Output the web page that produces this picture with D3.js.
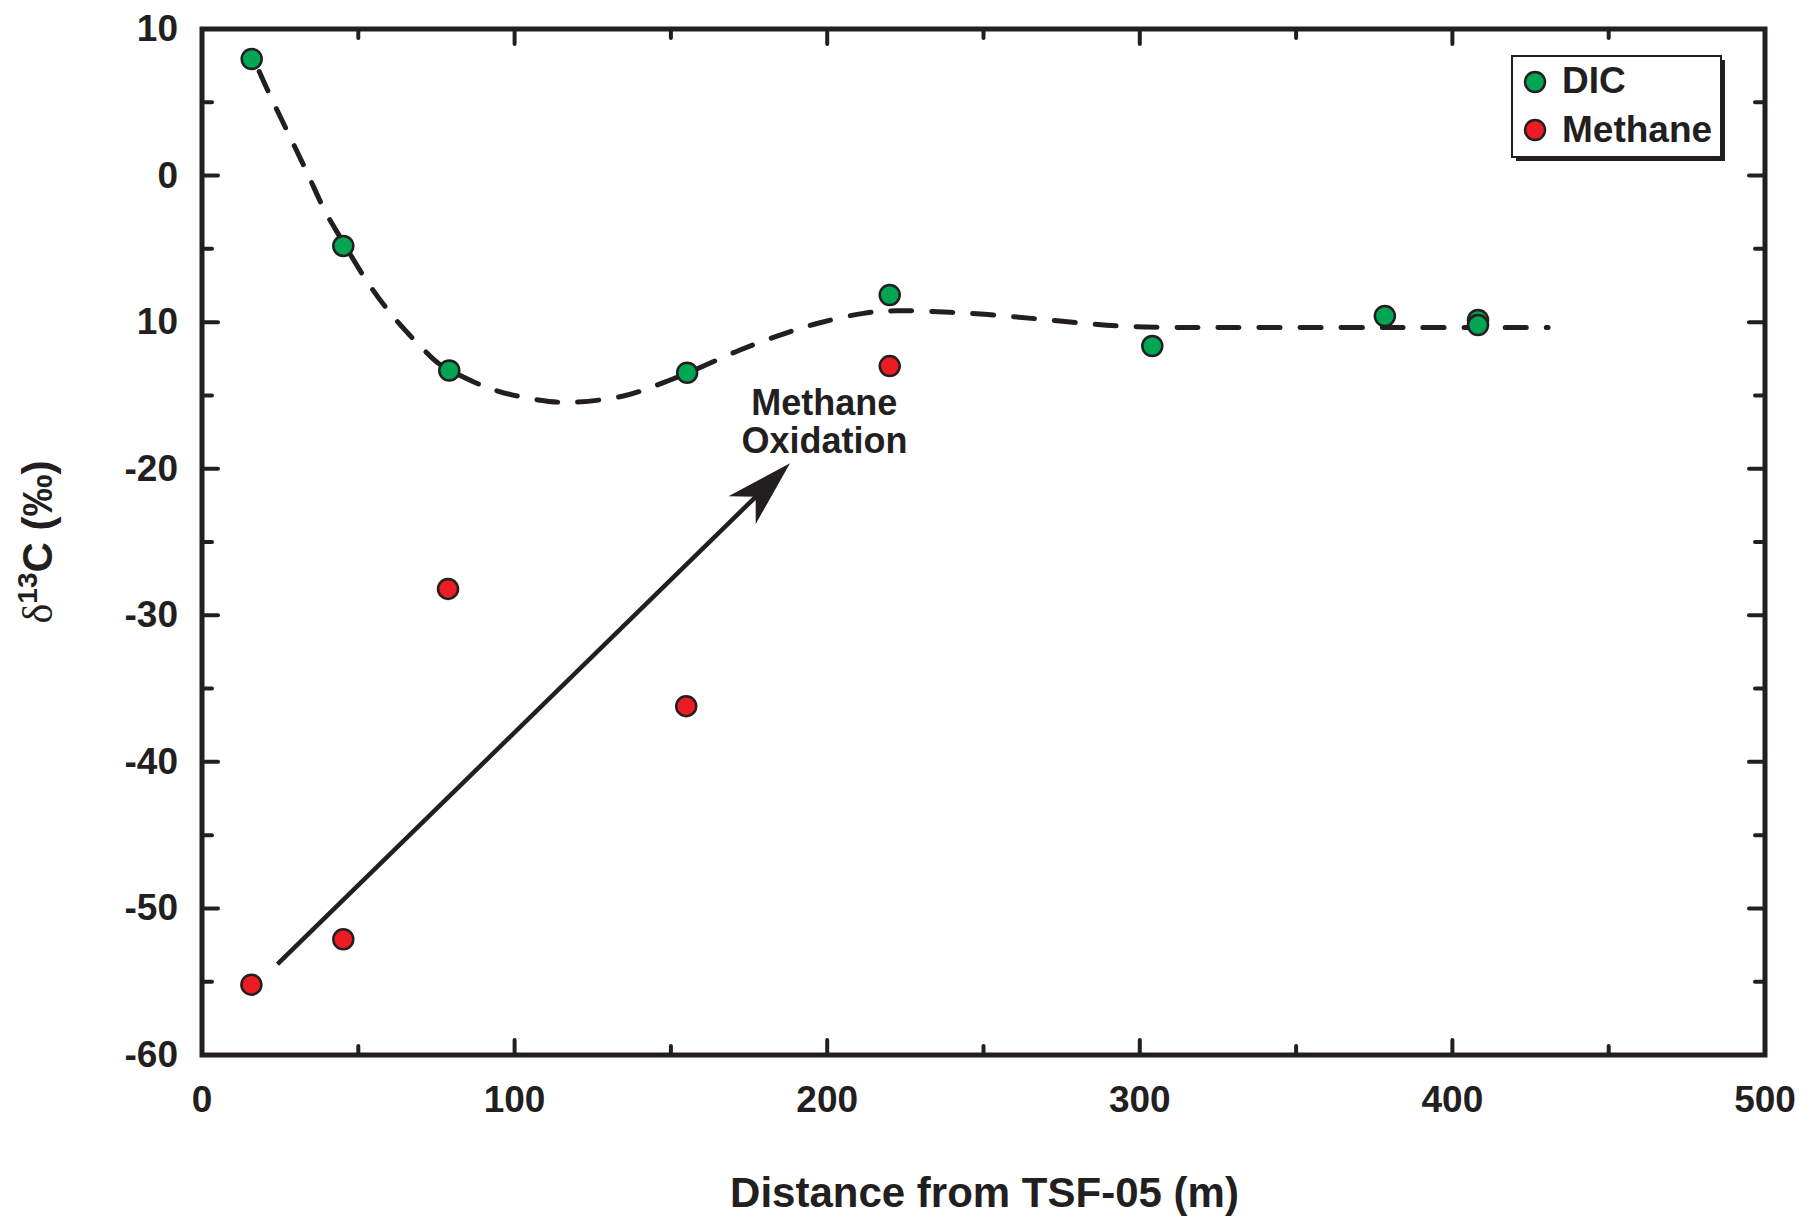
<!DOCTYPE html>
<html>
<head>
<meta charset="utf-8">
<script src="https://cdn.jsdelivr.net/npm/d3@7"></script>
<style>
  html, body { margin: 0; padding: 0; background: #fff; }
  svg { display: block; }
  text { font-family: "Liberation Sans", Arial, Helvetica, sans-serif; font-weight: bold; fill: #231f20; }
</style>
</head>
<body>
<svg id="chart" width="1804" height="1217"></svg>
<script>
// ---------- data ----------
const dicX = [15.9, 45.2, 79.1, 155.2, 220, 304, 378.4, 408.2, 408.2];
const dicY = [7.95, -4.8, -13.3, -13.45, -8.15, -11.63, -9.58, -9.85, -10.2];
const methaneX = [15.8, 45.2, 78.7, 154.9, 220];
const methaneY = [-55.2, -52.1, -28.2, -36.2, -13.0];
const trendX = [18.3, 21.7, 27.6, 33.5, 39.3, 44.1, 53.2, 61.2, 70.8, 75.6, 86.8, 94.3, 107.6, 117.7, 134.8, 147.6, 159.9, 172.1, 184.9, 197.7, 211.6, 222.2, 239.3, 253.2, 266.3, 280.2, 293.5, 307.4, 330, 380, 430.6];
const trendY = [7.1, 5.5, 2.88, 0.26, -2.4, -4.17, -7.35, -9.63, -11.85, -12.8, -14.06, -14.68, -15.31, -15.47, -15.04, -14.13, -13.04, -11.9, -10.88, -10.04, -9.4, -9.22, -9.33, -9.51, -9.76, -10.04, -10.26, -10.35, -10.37, -10.37, -10.37];
const xTicks = [0, 100, 200, 300, 400, 500];
const xTickLabels = ["0", "100", "200", "300", "400", "500"];
const xMinorTicks = [50, 150, 250, 350, 450];
const yTicks = [10, 0, -10, -20, -30, -40, -50, -60];
const yTickLabels = ["10", "0", "10", "-20", "-30", "-40", "-50", "-60"];
const yMinorTicks = [5, -5, -15, -25, -35, -45, -55];
const arrowFrom = [24.15, -53.8];
const arrowTo = [188.1, -19.63];
const annotationPos = [199.1, -16.34];
const annotationLines = ["Methane", "Oxidation"];
const legendLabels = ["DIC", "Methane"];
const colors = { dic: "#00a651", methane: "#ed1c24", ink: "#231f20" };

// ---------- layout ----------
const L = 202, R = 1765, T = 29, B = 1055;
const svg = d3.select("#chart");
const x = d3.scaleLinear().domain([0, 500]).range([L, R]);
const y = d3.scaleLinear().domain([-60, 10]).range([B, T]);

// trend curve
const trend = trendX.map((v, i) => [v, trendY[i]]);
svg.append("path")
  .datum(trend)
  .attr("d", d3.line().x(d => x(d[0])).y(d => y(d[1])).curve(d3.curveCatmullRom.alpha(0.5)))
  .attr("fill", "none")
  .attr("stroke", colors.ink)
  .attr("stroke-width", 5)
  .attr("stroke-dasharray", "21 20")
  .attr("stroke-linecap", "round");

// arrow
const p0 = [x(arrowFrom[0]), y(arrowFrom[1])];
const p1 = [x(arrowTo[0]), y(arrowTo[1])];
const dx = p1[0] - p0[0], dy = p1[1] - p0[1];
const len = Math.hypot(dx, dy);
const ux = dx / len, uy = dy / len;
const px = -uy, py = ux;
const headLen = 67, headHalf = 19.5, notch = 48;
const notchPt = [p1[0] - ux * notch, p1[1] - uy * notch];
svg.append("line")
  .attr("x1", p0[0]).attr("y1", p0[1])
  .attr("x2", notchPt[0] + ux * 4).attr("y2", notchPt[1] + uy * 4)
  .attr("stroke", colors.ink).attr("stroke-width", 4.5);
const head = [
  p1,
  [p1[0] - ux * headLen + px * headHalf, p1[1] - uy * headLen + py * headHalf],
  notchPt,
  [p1[0] - ux * headLen - px * headHalf, p1[1] - uy * headLen - py * headHalf]
];
svg.append("path")
  .attr("d", "M" + head.map(p => p.join(",")).join("L") + "Z")
  .attr("fill", colors.ink);

// annotation
const ann = svg.append("text")
  .attr("x", x(annotationPos[0]))
  .attr("y", y(annotationPos[1]))
  .attr("text-anchor", "middle")
  .attr("font-size", 36);
annotationLines.forEach((t, i) => {
  ann.append("tspan").attr("x", x(annotationPos[0])).attr("dy", i === 0 ? 0 : 38).text(t);
});

// points
function drawPoints(xs, ys, fill) {
  svg.append("g").selectAll("circle")
    .data(xs.map((v, i) => [v, ys[i]]))
    .join("circle")
    .attr("cx", d => x(d[0]))
    .attr("cy", d => y(d[1]))
    .attr("r", 10)
    .attr("fill", fill)
    .attr("stroke", colors.ink)
    .attr("stroke-width", 2.5);
}
drawPoints(dicX, dicY, colors.dic);
drawPoints(methaneX, methaneY, colors.methane);

// frame
svg.append("rect")
  .attr("x", L).attr("y", T).attr("width", R - L).attr("height", B - T)
  .attr("fill", "none").attr("stroke", colors.ink).attr("stroke-width", 5);

// ticks on all four sides, inward
const tg = svg.append("g").attr("stroke", colors.ink).attr("stroke-width", 4).attr("stroke-linecap", "round");
function xTickMarks(vals, size) {
  vals.forEach(v => {
    tg.append("line").attr("x1", x(v)).attr("x2", x(v)).attr("y1", B).attr("y2", B - size);
    tg.append("line").attr("x1", x(v)).attr("x2", x(v)).attr("y1", T).attr("y2", T + size);
  });
}
function yTickMarks(vals, size) {
  vals.forEach(v => {
    tg.append("line").attr("y1", y(v)).attr("y2", y(v)).attr("x1", L).attr("x2", L + size);
    tg.append("line").attr("y1", y(v)).attr("y2", y(v)).attr("x1", R).attr("x2", R - size);
  });
}
xTickMarks(xTicks.slice(1, -1), 15);
xTickMarks(xMinorTicks, 9);
yTickMarks(yTicks.slice(1, -1), 16);
yTickMarks(yMinorTicks, 10);

// tick labels
svg.append("g").selectAll("text")
  .data(xTicks)
  .join("text")
  .attr("x", d => x(d))
  .attr("y", 1112)
  .attr("text-anchor", "middle")
  .attr("font-size", 37)
  .text((d, i) => xTickLabels[i]);
svg.append("g").selectAll("text")
  .data(yTicks)
  .join("text")
  .attr("x", 178)
  .attr("y", d => y(d) + 12)
  .attr("text-anchor", "end")
  .attr("font-size", 37)
  .text((d, i) => yTickLabels[i]);

// axis titles
svg.append("text")
  .attr("x", (L + R) / 2 + 1)
  .attr("y", 1207)
  .attr("text-anchor", "middle")
  .attr("font-size", 42)
  .text("Distance from TSF-05 (m)");

const yt = svg.append("text")
  .attr("transform", "translate(52,542) rotate(-90)")
  .attr("text-anchor", "middle")
  .attr("font-size", 42);
yt.append("tspan").attr("font-family", "'Liberation Serif', 'DejaVu Serif', serif").attr("font-weight", "normal").text("δ");
yt.append("tspan").attr("font-size", 28).attr("dy", -15).text("13");
yt.append("tspan").attr("dy", 15).text("C (‰)");

// legend
const lg = svg.append("g");
lg.append("rect").attr("x", 1516).attr("y", 60).attr("width", 209).attr("height", 101).attr("fill", colors.ink);
lg.append("rect").attr("x", 1512).attr("y", 56).attr("width", 209).attr("height", 101)
  .attr("fill", "#fff").attr("stroke", colors.ink).attr("stroke-width", 2);
[colors.dic, colors.methane].forEach((c, i) => {
  lg.append("circle").attr("cx", 1535).attr("cy", 82 + i * 48).attr("r", 10)
    .attr("fill", c).attr("stroke", colors.ink).attr("stroke-width", 2.5);
  lg.append("text").attr("x", 1562).attr("y", 93 + i * 49).attr("font-size", 37).text(legendLabels[i]);
});
</script>
</body>
</html>
